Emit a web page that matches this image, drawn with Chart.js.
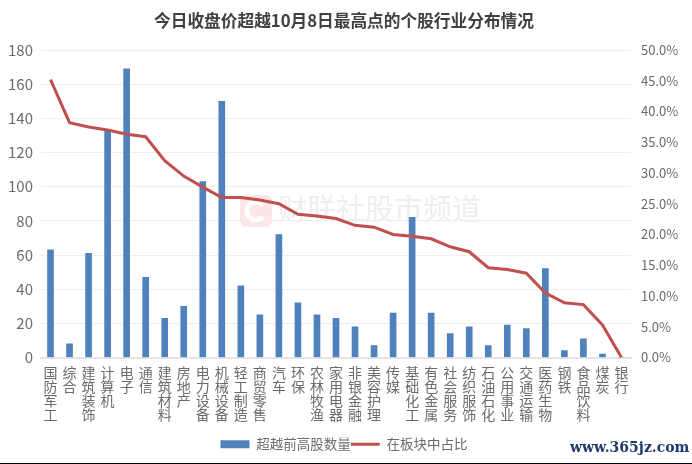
<!DOCTYPE html>
<html>
<head>
<meta charset="utf-8">
<style>
html, body { margin: 0; padding: 0; background: #fff; }
#wrap { width: 692px; height: 464px; }
</style>
<script src="https://cdn.jsdelivr.net/npm/chart.js@4/dist/chart.umd.min.js"></script>
</head>
<body>
<div id="wrap"><canvas id="myChart" width="692" height="464"></canvas></div>
<script>
const categories = ['国防军工','综合','建筑装饰','计算机','电子','通信','建筑材料','房地产','电力设备','机械设备','轻工制造','商贸零售','汽车','环保','农林牧渔','家用电器','非银金融','美容护理','传媒','基础化工','有色金属','社会服务','纺织服饰','石油石化','公用事业','交通运输','医药生物','钢铁','食品饮料','煤炭','银行'];
const stockCounts = [63,8,61,133,169,47,23,30,103,150,42,25,72,32,25,23,18,7,26,82,26,14,18,7,19,17,52,4,11,2,0];
const sectorShare = [45.2,38.2,37.5,37,36.3,35.9,32,29.5,27.7,26,26,25.6,25,23.3,23,22.6,21.5,21.2,20,19.7,19.3,18,17.2,14.6,14.3,13.7,10.5,8.9,8.6,5.3,0];
const titleText = '今日收盘价超越10月8日最高点的个股行业分布情况';
const seriesNames = ['超越前高股数量', '在板块中占比'];

const FONT = '"Noto Sans CJK SC", "Noto Sans", sans-serif';
const TEXT_COLOR = '#6b6b6b';

// watermark, site stamp and the bottom edge of the screenshot
const decorations = {
    id: 'decorations',
    beforeDatasetsDraw(chart) {
        const c = chart.ctx;
        c.save();
        c.fillStyle = '#fde6e8';
        c.beginPath();
        c.roundRect(240, 195, 32, 32, 6);
        c.fill();
        c.strokeStyle = '#ffffff';
        c.lineWidth = 5;
        c.beginPath();
        c.arc(256, 211, 9, 0.7, Math.PI * 2 - 0.7);
        c.stroke();
        c.fillStyle = '#eeeeee';
        c.font = '29px ' + FONT;
        c.textBaseline = 'middle';
        c.fillText('财联社股市频道', 278, 209);
        c.restore();
    },
    afterDraw(chart) {
        const c = chart.ctx;
        c.save();
        c.fillStyle = '#1f3a6e';
        c.font = 'bold 14px "DejaVu Serif", serif';
        c.textBaseline = 'middle';
        c.fillText('www.365jz.com', 570, 448);
        c.fillStyle = '#000';
        c.fillRect(0, 463, 692, 1);
        c.restore();
    }
};

new Chart(document.getElementById('myChart'), {
    data: {
        labels: categories.map(name => name.split('')),
        datasets: [
            {
                type: 'line',
                label: seriesNames[1],
                data: sectorShare,
                yAxisID: 'share',
                borderColor: '#c0504d',
                backgroundColor: '#c0504d',
                borderWidth: 3,
                pointRadius: 0,
                tension: 0,
                order: 1
            },
            {
                type: 'bar',
                label: seriesNames[0],
                data: stockCounts,
                yAxisID: 'count',
                backgroundColor: '#4f81bd',
                barThickness: 6,
                order: 2
            }
        ]
    },
    options: {
        responsive: false,
        animation: false,
        layout: { padding: { top: 11, bottom: 3, left: 0, right: 4 } },
        plugins: {
            title: {
                display: true,
                text: titleText,
                color: '#404040',
                font: { family: FONT, size: 16.7, weight: 'bold' },
                padding: { top: 0, bottom: 19 }
            },
            legend: {
                position: 'bottom',
                reverse: true,
                labels: {
                    color: TEXT_COLOR,
                    font: { family: FONT, size: 13.5 },
                    usePointStyle: true,
                    pointStyleWidth: 29,
                    boxHeight: 8,
                    padding: 0,
                    generateLabels(chart) {
                        const items = Chart.defaults.plugins.legend.labels.generateLabels(chart);
                        items.forEach(item => {
                            item.pointStyle = item.datasetIndex === 0 ? 'line' : 'rect';
                        });
                        return items;
                    }
                }
            }
        },
        scales: {
            x: {
                grid: { display: false },
                border: { color: '#e4e4e4', width: 2 },
                ticks: {
                    color: TEXT_COLOR,
                    font: { family: FONT, size: 14, lineHeight: 1 },
                    maxRotation: 0,
                    minRotation: 0,
                    autoSkip: false,
                    padding: 0
                },
                afterFit(scale) { scale.height = 80; }
            },
            count: {
                position: 'left',
                min: 0,
                max: 180,
                ticks: {
                    stepSize: 20,
                    color: TEXT_COLOR,
                    font: { family: FONT, size: 15 },
                    padding: 8
                },
                grid: { color: '#eeeeee', drawTicks: false },
                border: { display: false },
                afterFit(scale) { scale.width = 41; }
            },
            share: {
                position: 'right',
                min: 0,
                max: 50,
                ticks: {
                    stepSize: 5,
                    color: TEXT_COLOR,
                    font: { family: FONT, size: 13 },
                    padding: 2,
                    callback: value => value.toFixed(1) + '%'
                },
                grid: { display: false },
                border: { display: false },
                afterFit(scale) { scale.width = 57; }
            }
        }
    },
    plugins: [decorations]
});
</script>
</body>
</html>
